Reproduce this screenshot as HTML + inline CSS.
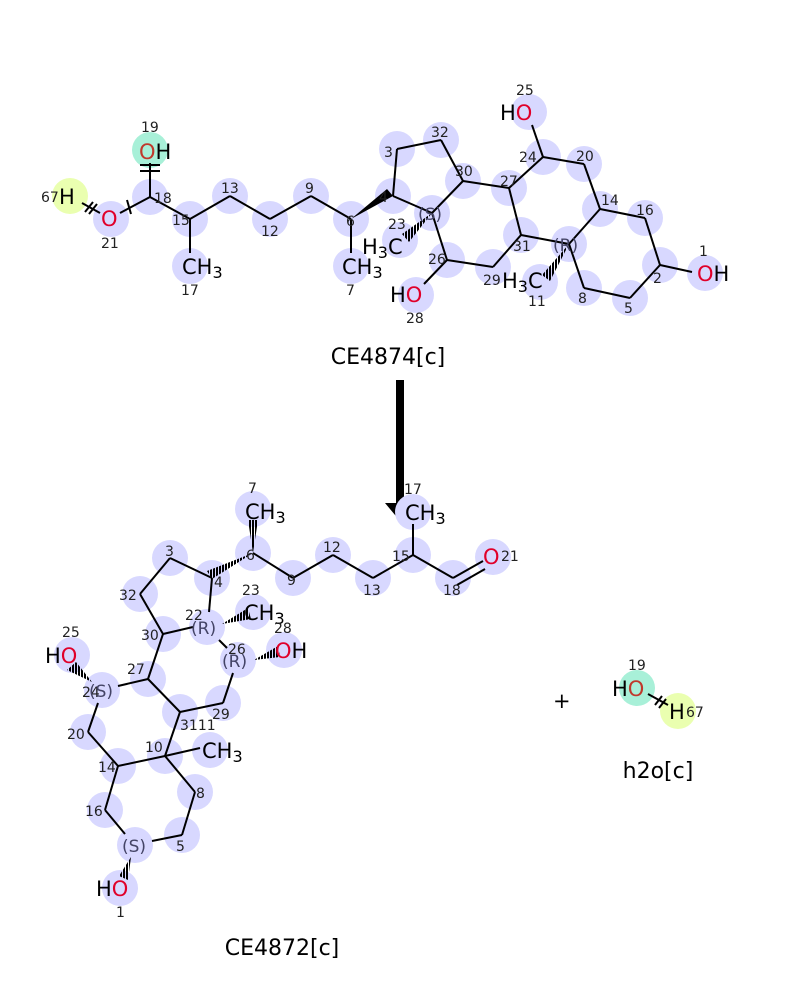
<!DOCTYPE html>
<html><head><meta charset="utf-8"><style>
html,body{margin:0;padding:0;background:#fff;width:800px;height:1000px;overflow:hidden}
svg{display:block}
.c{fill:#d8d8ff}
.b line{stroke:#000;stroke-width:2}
.n{font:14px "DejaVu Sans","Liberation Sans",sans-serif;fill:#222}
.a{font:21px "DejaVu Sans","Liberation Sans",sans-serif;fill:#000}
.o{fill:#e0002a}
.s{font:17px "DejaVu Sans",sans-serif;fill:#446}
.t{font:22px "DejaVu Sans","Liberation Sans",sans-serif;fill:#000}
</style></head><body>
<svg width="800" height="1000" viewBox="0 0 800 1000" xmlns="http://www.w3.org/2000/svg">
<defs>
<pattern id="h" width="3" height="3" patternUnits="userSpaceOnUse"><rect width="2" height="3" fill="#000"/></pattern>
</defs>
<!-- TOP circles -->
<g class="c">
<circle cx="70" cy="196" r="18" fill="#eaffb0"/><circle cx="150" cy="150" r="18" fill="#a8f0d8"/>
<circle cx="111" cy="219" r="18"/><circle cx="150" cy="197" r="18"/><circle cx="190" cy="219" r="18"/><circle cx="190" cy="266" r="18"/>
<circle cx="230" cy="196" r="18"/><circle cx="270" cy="219" r="18"/><circle cx="311" cy="196" r="18"/><circle cx="351" cy="219" r="18"/><circle cx="351" cy="266" r="18"/>
<circle cx="393" cy="196" r="18"/><circle cx="397" cy="149" r="18"/><circle cx="441" cy="140" r="18"/><circle cx="463" cy="181" r="18"/><circle cx="432" cy="213" r="18"/>
<circle cx="400" cy="240" r="18"/><circle cx="447" cy="260" r="18"/><circle cx="416" cy="295" r="18"/><circle cx="493" cy="267" r="18"/><circle cx="521" cy="235" r="18"/>
<circle cx="509" cy="188" r="18"/><circle cx="543" cy="157" r="18"/><circle cx="529" cy="112" r="18"/><circle cx="584" cy="164" r="18"/><circle cx="600" cy="209" r="18"/>
<circle cx="645" cy="218" r="18"/><circle cx="660" cy="265" r="18"/><circle cx="705" cy="273" r="18"/><circle cx="630" cy="298" r="18"/><circle cx="584" cy="288" r="18"/>
<circle cx="569" cy="244" r="18"/><circle cx="540" cy="282" r="18"/>
</g>
<g class="b">
<line x1="82" y1="203" x2="100" y2="213"/><line x1="120" y1="213" x2="150" y2="197"/><line x1="150" y1="197" x2="150" y2="163"/>
<line x1="150" y1="197" x2="190" y2="219"/><line x1="190" y1="219" x2="190" y2="253"/><line x1="190" y1="219" x2="230" y2="196"/>
<line x1="230" y1="196" x2="270" y2="219"/><line x1="270" y1="219" x2="311" y2="196"/><line x1="311" y1="196" x2="351" y2="219"/><line x1="351" y1="219" x2="351" y2="253"/>
<line x1="393" y1="196" x2="397" y2="149"/><line x1="397" y1="149" x2="441" y2="140"/><line x1="441" y1="140" x2="463" y2="181"/><line x1="463" y1="181" x2="432" y2="213"/>
<line x1="432" y1="213" x2="393" y2="196"/><line x1="432" y1="213" x2="447" y2="260"/><line x1="447" y1="260" x2="424" y2="284"/><line x1="447" y1="260" x2="493" y2="267"/>
<line x1="493" y1="267" x2="521" y2="235"/><line x1="521" y1="235" x2="509" y2="188"/><line x1="509" y1="188" x2="463" y2="181"/><line x1="509" y1="188" x2="543" y2="157"/>
<line x1="543" y1="157" x2="532" y2="125"/><line x1="543" y1="157" x2="584" y2="164"/><line x1="584" y1="164" x2="600" y2="209"/><line x1="600" y1="209" x2="569" y2="244"/>
<line x1="569" y1="244" x2="521" y2="235"/><line x1="569" y1="244" x2="584" y2="288"/><line x1="584" y1="288" x2="630" y2="298"/><line x1="630" y1="298" x2="660" y2="265"/>
<line x1="660" y1="265" x2="645" y2="218"/><line x1="645" y1="218" x2="600" y2="209"/><line x1="660" y1="265" x2="692" y2="272"/>
<line x1="140" y1="165" x2="160" y2="165" /><line x1="140" y1="171" x2="160" y2="171"/><line x1="127" y1="200" x2="131" y2="214"/>
<line x1="85" y1="212" x2="93" y2="202"/><line x1="89" y1="214" x2="97" y2="204"/>
</g>
<polygon points="351,219 393,196 387,189" fill="#000"/>
<polygon points="432,213 402,234 409,242" fill="url(#h)"/>
<polygon points="569,244 542,275 550,281" fill="url(#h)"/>
<g>
<text class="a" x="59" y="204" fill="#000">H</text><text class="n" x="41" y="202">67</text>
<text class="a o" x="101" y="226">O</text><text class="n" x="101" y="248">21</text>
<text class="a" x="139" y="159"><tspan fill="#c0392b">O</tspan>H</text><text class="n" x="141" y="132">19</text>
<text class="n" x="154" y="203">18</text><text class="n" x="172" y="225">15</text>
<text class="a" x="182" y="274">CH<tspan font-size="16" dy="4">3</tspan></text><text class="n" x="181" y="295">17</text>
<text class="n" x="221" y="193">13</text><text class="n" x="261" y="236">12</text><text class="n" x="305" y="193">9</text><text class="n" x="346" y="226">6</text>
<text class="a" x="342" y="274">CH<tspan font-size="16" dy="4">3</tspan></text><text class="n" x="346" y="295">7</text>
<text class="n" x="379" y="202">4</text><text class="n" x="384" y="157">3</text><text class="n" x="431" y="137">32</text><text class="n" x="455" y="176">30</text>
<text class="s" x="418" y="220">(S)</text><text class="n" x="388" y="229">23</text>
<text class="a" x="362" y="254">H<tspan font-size="16" dy="4">3</tspan><tspan dy="-4">C</tspan></text>
<text class="n" x="428" y="264">26</text><text class="a" x="390" y="302">H<tspan class="o">O</tspan></text><text class="n" x="406" y="323">28</text>
<text class="n" x="483" y="285">29</text><text class="n" x="513" y="251">31</text><text class="n" x="500" y="186">27</text><text class="n" x="519" y="162">24</text>
<text class="a" x="500" y="120">H<tspan class="o">O</tspan></text><text class="n" x="516" y="95">25</text>
<text class="n" x="576" y="161">20</text><text class="n" x="601" y="205">14</text><text class="n" x="636" y="215">16</text>
<text class="s" x="553" y="251">(R)</text><text class="n" x="653" y="283">2</text>
<text class="a" x="697" y="281"><tspan class="o">O</tspan>H</text><text class="n" x="699" y="256">1</text>
<text class="n" x="624" y="313">5</text><text class="n" x="578" y="303">8</text>
<text class="a" x="502" y="288">H<tspan font-size="16" dy="4">3</tspan><tspan dy="-4">C</tspan></text><text class="n" x="528" y="306">11</text>
</g>
<text class="t" x="388" y="364" text-anchor="middle">CE4874[c]</text>
<!-- arrow -->
<rect x="396" y="380" width="8" height="125" fill="#000"/>
<polygon points="385,503 415,503 400,521" fill="#000"/>
<!-- BOTTOM circles -->
<g class="c">
<circle cx="253" cy="509" r="18"/><circle cx="253" cy="553" r="18"/><circle cx="212" cy="578" r="18"/><circle cx="170" cy="558" r="18"/><circle cx="140" cy="594" r="18"/>
<circle cx="163" cy="634" r="18"/><circle cx="207" cy="627" r="18"/><circle cx="253" cy="612" r="18"/><circle cx="238" cy="660" r="18"/><circle cx="284" cy="650" r="18"/>
<circle cx="223" cy="703" r="18"/><circle cx="180" cy="712" r="18"/><circle cx="148" cy="679" r="18"/><circle cx="102" cy="690" r="18"/><circle cx="72" cy="655" r="18"/>
<circle cx="88" cy="732" r="18"/><circle cx="118" cy="766" r="18"/><circle cx="165" cy="756" r="18"/><circle cx="210" cy="750" r="18"/><circle cx="195" cy="792" r="18"/>
<circle cx="182" cy="835" r="18"/><circle cx="135" cy="845" r="18"/><circle cx="120" cy="888" r="18"/><circle cx="105" cy="810" r="18"/>
<circle cx="293" cy="578" r="18"/><circle cx="333" cy="555" r="18"/><circle cx="373" cy="578" r="18"/><circle cx="413" cy="555" r="18"/><circle cx="413" cy="512" r="18"/>
<circle cx="453" cy="578" r="18"/><circle cx="493" cy="557" r="18"/>
</g>
<g class="b">
<line x1="253" y1="553" x2="293" y2="578"/><line x1="293" y1="578" x2="333" y2="555"/><line x1="333" y1="555" x2="373" y2="578"/><line x1="373" y1="578" x2="413" y2="555"/>
<line x1="413" y1="555" x2="413" y2="524"/><line x1="413" y1="555" x2="453" y2="578"/><line x1="453" y1="578" x2="483" y2="561"/><line x1="457" y1="585" x2="485" y2="569"/>
<line x1="212" y1="578" x2="170" y2="558"/><line x1="170" y1="558" x2="140" y2="594"/><line x1="140" y1="594" x2="163" y2="634"/><line x1="163" y1="634" x2="193" y2="627"/>
<line x1="212" y1="578" x2="209" y2="612"/><line x1="219" y1="640" x2="227" y2="648"/><line x1="233" y1="673" x2="223" y2="703"/><line x1="223" y1="703" x2="180" y2="712"/>
<line x1="180" y1="712" x2="148" y2="679"/><line x1="148" y1="679" x2="163" y2="634"/><line x1="148" y1="679" x2="118" y2="686"/><line x1="98" y1="703" x2="88" y2="732"/>
<line x1="88" y1="732" x2="118" y2="766"/><line x1="118" y1="766" x2="165" y2="756"/><line x1="165" y1="756" x2="180" y2="712"/><line x1="165" y1="756" x2="200" y2="748"/>
<line x1="165" y1="756" x2="195" y2="792"/><line x1="195" y1="792" x2="182" y2="835"/><line x1="182" y1="835" x2="152" y2="841"/><line x1="125" y1="834" x2="105" y2="810"/>
<line x1="105" y1="810" x2="118" y2="766"/>
</g>
<polygon points="253,553 248,520 258,520" fill="url(#h)"/>
<polygon points="253,553 212,579 207,571" fill="url(#h)"/>
<polygon points="222,624 248,608 251,619" fill="url(#h)"/>
<polygon points="254,660 278,646 280,657" fill="url(#h)"/>
<polygon points="92,682 76,662 67,670" fill="url(#h)"/>
<polygon points="131,857 119,876 128,880" fill="url(#h)"/>
<g>
<text class="n" x="248" y="493">7</text><text class="a" x="245" y="519">CH<tspan font-size="16" dy="4">3</tspan></text>
<text class="n" x="246" y="560">6</text><text class="n" x="214" y="587">4</text><text class="n" x="165" y="556">3</text><text class="n" x="119" y="600">32</text><text class="n" x="141" y="640">30</text>
<text class="n" x="185" y="620">22</text><text class="s" x="191" y="634">(R)</text>
<text class="n" x="242" y="595">23</text><text class="a" x="244" y="620">CH<tspan font-size="16" dy="4">3</tspan></text>
<text class="n" x="228" y="654">26</text><text class="s" x="222" y="667">(R)</text>
<text class="n" x="274" y="633">28</text><text class="a" x="275" y="658"><tspan class="o">O</tspan>H</text>
<text class="n" x="212" y="719">29</text><text class="n" x="180" y="730">3111</text><text class="n" x="127" y="674">27</text>
<text class="n" x="82" y="697">24</text><text class="s" x="89" y="697">(S)</text>
<text class="n" x="62" y="637">25</text><text class="a" x="45" y="663">H<tspan class="o">O</tspan></text>
<text class="n" x="67" y="739">20</text><text class="n" x="98" y="772">14</text><text class="n" x="145" y="752">10</text>
<text class="a" x="202" y="758">CH<tspan font-size="16" dy="4">3</tspan></text>
<text class="n" x="196" y="798">8</text><text class="n" x="176" y="851">5</text><text class="n" x="85" y="816">16</text>
<text class="s" x="122" y="852">(S)</text><text class="a" x="96" y="896">H<tspan class="o">O</tspan></text><text class="n" x="116" y="917">1</text>
<text class="n" x="287" y="585">9</text><text class="n" x="323" y="552">12</text><text class="n" x="363" y="595">13</text><text class="n" x="392" y="561">15</text>
<text class="n" x="404" y="494">17</text><text class="a" x="405" y="520">CH<tspan font-size="16" dy="4">3</tspan></text>
<text class="n" x="443" y="595">18</text><text class="a o" x="483" y="564">O</text><text class="n" x="501" y="561">21</text>
</g>
<text class="t" x="282" y="955" text-anchor="middle">CE4872[c]</text>
<!-- water -->
<text class="a" x="553" y="708" font-size="30">+</text>
<circle cx="637" cy="688" r="18" fill="#a8f0d8"/><circle cx="678" cy="711" r="18" fill="#eaffb0"/>
<g class="b"><line x1="648" y1="694" x2="668" y2="705"/><line x1="655" y1="705" x2="662" y2="696"/><line x1="659" y1="708" x2="666" y2="699"/></g>
<text class="a" x="612" y="696">H<tspan fill="#c0392b">O</tspan></text><text class="n" x="628" y="670">19</text>
<text class="a" x="669" y="719">H</text><text class="n" x="686" y="717">67</text>
<text class="t" x="658" y="778" text-anchor="middle">h2o[c]</text>
</svg>
</body></html>
